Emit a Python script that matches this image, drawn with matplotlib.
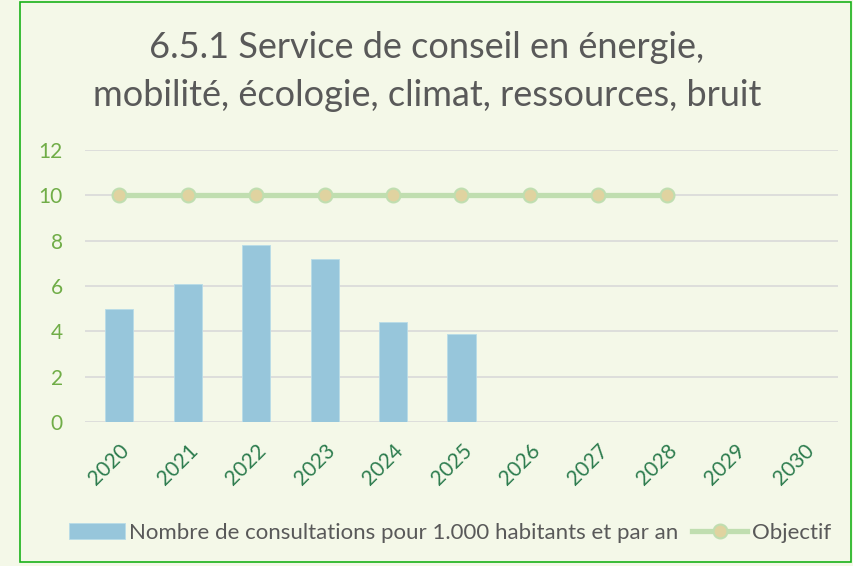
import matplotlib.pyplot as plt
from matplotlib.patches import Rectangle

years = ["2020", "2021", "2022", "2023", "2024", "2025", "2026", "2027", "2028", "2029", "2030"]
consultations = [5.0, 6.1, 7.8, 7.2, 4.4, 3.9]
objectif = [10, 10, 10, 10, 10, 10, 10, 10, 10]
yticks = [0, 2, 4, 6, 8, 10, 12]

bg = "#F4F8E8"
plt.rcParams['font.family'] = ['Lato', 'DejaVu Sans']

fig = plt.figure(figsize=(8.54, 5.66), dpi=100, facecolor=bg)
fig.patches.append(Rectangle((20 / 854, 4 / 566), 831 / 854, 560 / 566, transform=fig.transFigure,
                             fill=False, edgecolor="#19B219", linewidth=1.2))

ax = fig.add_axes([85 / 854, 1 - 422 / 566, 753 / 854, 272 / 566])
ax.set_facecolor(bg)

x = list(range(len(years)))
bars = ax.bar(x[:len(consultations)], consultations, width=0.41, color="#97C6DB",
              edgecolor="#B8DCE8", linewidth=0.6, zorder=2,
              label="Nombre de consultations pour 1.000 habitants et par an")
line, = ax.plot(x[:len(objectif)], objectif, color="#C0DEB0", linewidth=3.8, marker="o",
                markersize=10, markerfacecolor="#E0D3A0", markeredgecolor="#C0DEB0",
                markeredgewidth=1.5, zorder=3, label="Objectif")

ax.set_xlim(-0.5, len(years) - 0.5)
ax.set_ylim(0, 12)
ax.set_yticks(yticks)
ax.yaxis.grid(True, color="#D9D9D9", linewidth=1.2, zorder=0)
ax.set_axisbelow(True)
for s in ax.spines.values():
    s.set_visible(False)
ax.tick_params(axis="both", length=0)
ax.tick_params(axis="y", labelcolor="#70AD47", labelsize=15, pad=16)
ax.set_xticks(x)
ax.set_xticklabels(years, rotation=45, color="#2E7D4F", fontsize=15,
                   ha="right", va="top", rotation_mode="anchor")
ax.tick_params(axis="x", pad=13)

fig.text(0.5, 1 - 48 / 566, "6.5.1 Service de conseil en énergie,", ha="center", va="center",
         fontsize=26, color="#595959")
fig.text(0.5, 1 - 96 / 566, "mobilité, écologie, climat, ressources, bruit", ha="center", va="center",
         fontsize=26, color="#595959")

fig.legend(handles=[bars, line], loc="center", bbox_to_anchor=(450 / 854, 1 - 533 / 566), ncol=2,
           frameon=False, fontsize=16, labelcolor="#595959", handlelength=2.5,
           handletextpad=0.2, columnspacing=0.6)

fig.savefig("out.png", dpi=100, facecolor=bg)
